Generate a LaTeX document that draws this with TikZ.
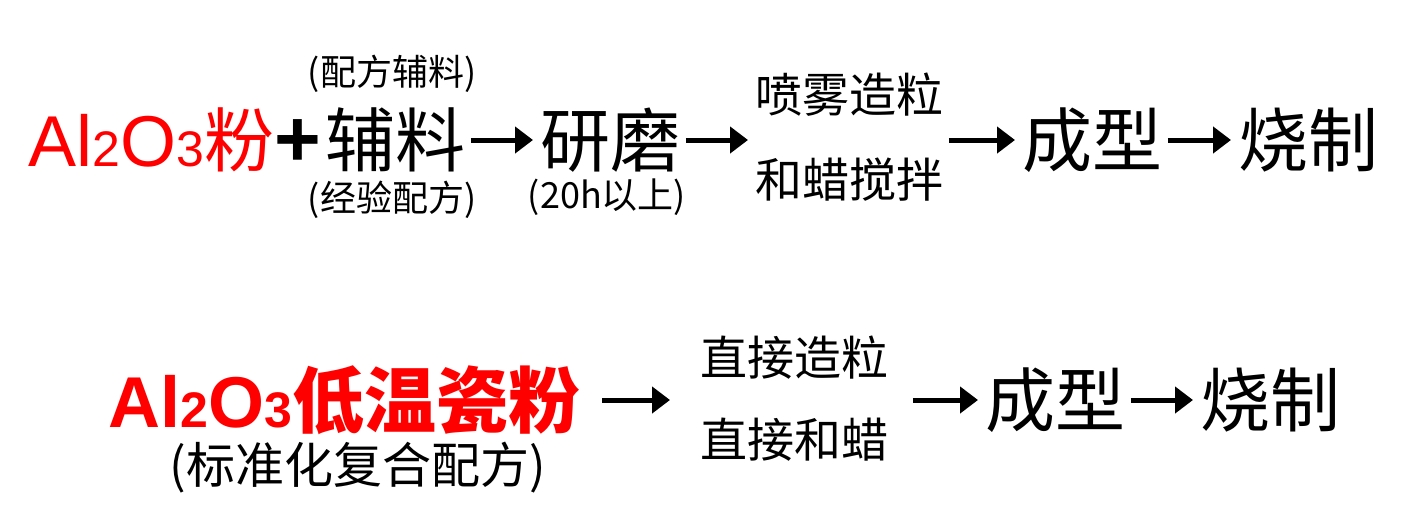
\documentclass[tikz,border=0pt]{standalone}
\usepackage{fontspec}
\setmainfont{Noto Sans CJK SC}
\newfontfamily\latin{Liberation Sans}
\usetikzlibrary{arrows.meta, positioning}
\definecolor{PowderRed}{RGB}{255, 0, 0}
\newcommand{\fsz}[1]{\fontsize{#1}{#1}\selectfont}
\newcommand{\alo}{{\latin\fsz{36}Al{\fsz{25}2}O{\fsz{25}3}}}

\begin{document}
\begin{tikzpicture}[x=0.5pt, y=0.5pt,
    word/.style={inner sep=0pt, font=\fsz{35}},
    note/.style={inner sep=0pt, font=\fsz{18}},
    sub/.style={inner sep=0pt, font=\fsz{23.5}},
    flow/.style={line width=2.5pt, -{Triangle[length=9pt, width=13pt]},
      shorten <=2.5pt, shorten >=3.5pt}]
    \useasboundingbox (0,0) rectangle (1420,527);

    % Conventional route
    \node[word, anchor=west, text=PowderRed] (fen) at (28,387) {\alo 粉};
    \node[inner sep=0pt, font=\latin\bfseries\fsz{40}] (plus) at (298,384) {+};
    \node[word, anchor=west] (fuliao) at (325,387) {辅料};
    \node[note] (peifang) at (392,453) {(配方辅料)};
    \node[note] (jingyan) at (392,327) {(经验配方)};
    \node[word, anchor=west] (yanmo) at (540,387) {研磨};
    \node[note] (shijian) at (607,330) {(20h以上)};
    \node[sub, anchor=west] (penwu) at (755,432) {喷雾造粒};
    \node[sub, anchor=west] (hela1) at (755,347) {和蜡搅拌};
    \node[word, anchor=west] (chengxing) at (1022,387) {成型};
    \node[word, anchor=west] (shaozhi) at (1238,387) {烧制};

    \draw[flow] (fuliao) -- (yanmo);
    \draw[flow] (yanmo) -- (penwu.west |- yanmo.east);
    \draw[flow] (hela1.east |- chengxing.west) -- (chengxing);
    \draw[flow] (chengxing) -- (shaozhi);

    % Low-temperature powder route
    \node[word, anchor=west, text=PowderRed, font=\fsz{36}\bfseries] (cifen) at (108,127) {\alo 低温瓷粉};
    \node[inner sep=0pt, font=\fsz{24.5}] (biaozhun) at (358,59) {(标准化复合配方)};
    \node[sub, anchor=west] (zaoli) at (700,169) {直接造粒};
    \node[sub, anchor=west] (hela) at (700,87) {直接和蜡};
    \node[word, anchor=west] (chengxing2) at (985,127) {成型};
    \node[word, anchor=west] (shaozhi2) at (1200,127) {烧制};

    \draw[flow, shorten <=11pt, shorten >=15pt] (cifen) -- (zaoli.west |- cifen.east);
    \draw[flow, shorten <=12pt] (hela.east |- chengxing2.west) -- (chengxing2);
    \draw[flow] (chengxing2) -- (shaozhi2);
\end{tikzpicture}
\end{document}
